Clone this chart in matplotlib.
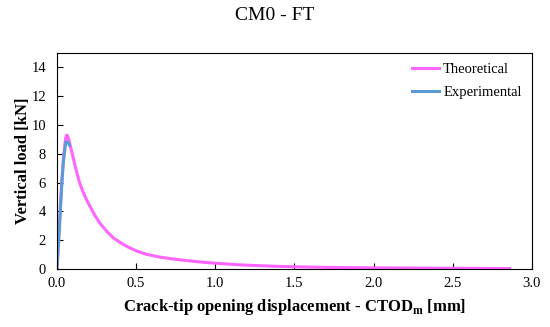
import numpy as np
import matplotlib
matplotlib.use('Agg')
import matplotlib.pyplot as plt

plt.rcParams['font.family'] = 'Liberation Serif'
plt.rcParams['mathtext.fontset'] = 'custom'
plt.rcParams['mathtext.rm'] = 'Liberation Serif'
plt.rcParams['mathtext.bf'] = 'Liberation Serif:bold'

# theoretical curve
theo_x = [0.0, 0.005, 0.01, 0.02, 0.03, 0.04, 0.05, 0.056, 0.061, 0.067, 0.075, 0.085,
          0.1, 0.114, 0.13, 0.146, 0.165, 0.185, 0.209, 0.24, 0.272, 0.31, 0.356,
          0.41, 0.462, 0.51, 0.568, 0.652, 0.75, 0.83, 0.93, 1.04, 1.15, 1.25,
          1.4, 1.55, 1.7, 1.9, 2.1, 2.3, 2.5, 2.7, 2.86]
theo_y = [0.0, 1.0, 2.0, 4.1, 6.0, 7.6, 8.7, 9.15, 9.3, 9.25, 9.0, 8.5,
          7.85, 7.2, 6.5, 5.9, 5.35, 4.85, 4.35, 3.72, 3.17, 2.68, 2.17,
          1.77, 1.46, 1.23, 1.02, 0.83, 0.68, 0.58, 0.47, 0.38, 0.3, 0.25,
          0.19, 0.15, 0.12, 0.1, 0.08, 0.07, 0.06, 0.05, 0.04]

# experimental curve
exp_x = [0.0, 0.005, 0.01, 0.016, 0.022, 0.03, 0.038, 0.045, 0.052, 0.057,
         0.065, 0.073, 0.08]
exp_y = [0.0, 0.9, 1.8, 2.9, 4.2, 5.8, 7.1, 7.9, 8.5, 8.8, 8.85, 8.75, 8.6]

fig = plt.figure(figsize=(5.5, 3.27), dpi=100)
ax = fig.add_axes([0.1036, 0.177, 0.8634, 0.661])

ax.plot(theo_x, theo_y, color='#FF66FF', lw=2.2, label='Theoretical',
        solid_joinstyle='round')
ax.plot(exp_x, exp_y, color='#5B9BD5', lw=2.2, label='Experimental',
        solid_joinstyle='round')

ax.set_xlim(0, 3.0)
ax.set_ylim(0, 15)
ax.set_xticks(np.arange(0, 3.01, 0.5))
ax.set_xticklabels(['%.1f' % v for v in np.arange(0, 3.01, 0.5)])
ax.set_yticks(range(0, 15, 2))
ax.tick_params(direction='in', labelsize=10.5, length=4)
ax.tick_params(axis='y', pad=8)
ax.tick_params(axis='x', pad=6)

ax.set_xlabel(r'Crack-tip opening displacement - CTOD$_{\mathbf{m}}$ [mm]',
              fontsize=12, fontweight='bold', labelpad=5)
ax.set_ylabel('Vertical load [kN]', fontsize=12, fontweight='bold', labelpad=0)
fig.suptitle('CM0 - FT', fontsize=14, y=0.98)

ax.legend(loc='upper right', frameon=False, fontsize=10.5, handlelength=1.9,
          handletextpad=0.25, labelspacing=0.65, borderaxespad=0.3)

fig.savefig('out.png', dpi=100)
